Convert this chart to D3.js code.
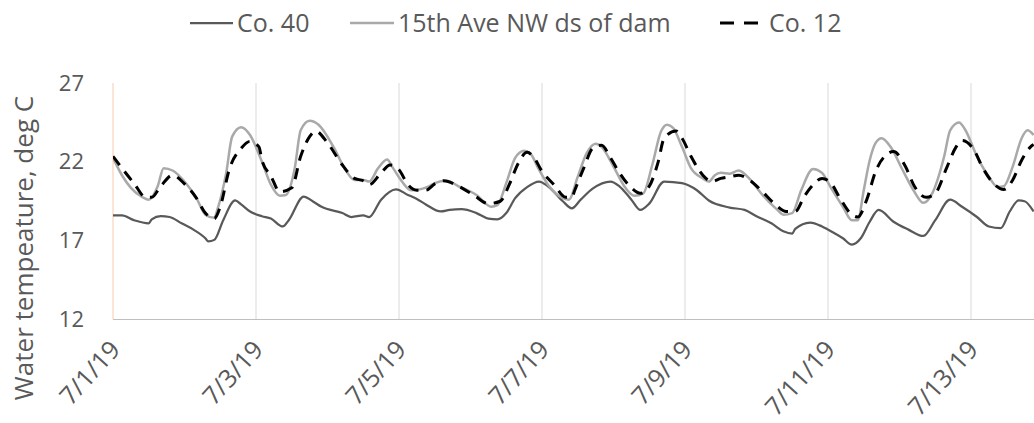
<!DOCTYPE html>
<html>
<head>
<meta charset="utf-8">
<script src="https://cdn.jsdelivr.net/npm/d3@7/dist/d3.min.js"></script>
<style>
  html, body { margin: 0; padding: 0; background: #fff; }
  svg { display: block; font-family: "Open Sans", sans-serif; }
</style>
</head>
<body>
<svg id="chart" width="1034" height="423"></svg>
<script>
// Water temperature readings, hours since 7/1/19 00:00
const co40Hours = [0,3,7,12,13,16,19,23,27,31,32,34,37,41,43,46,50,53,57,59,64,67,70,77,80,84,86,90,95,99,102,105,110,113,117,122,126,129,132,135,139,143,146,151,154,157,161,167,170,174,177,180,185,191,196,200,207,212,216,221,225,228,229,234,238,240,245,248,251,254,257,262,267,272,276,281,285,290,294,298,301,304,306,309];
const co40Temps = [18.6,18.6,18.3,18.1,18.35,18.55,18.5,18.1,17.7,17.15,16.95,17.05,18.3,19.55,19.3,18.85,18.55,18.4,17.9,18.3,19.8,19.5,19.15,18.75,18.5,18.6,18.5,19.6,20.25,19.9,19.65,19.3,18.85,18.95,19.0,18.75,18.4,18.35,18.75,19.7,20.4,20.75,20.45,19.5,19.05,19.6,20.3,20.75,20.45,19.6,18.95,19.35,20.75,20.65,20.2,19.55,19.1,18.95,18.55,18.1,17.6,17.45,17.75,18.15,17.9,17.7,17.15,16.75,17.15,18.2,18.95,18.2,17.7,17.3,18.3,19.6,19.15,18.5,17.9,17.8,18.85,19.55,19.5,18.85];

const aveHours = [0,3,6,10,12,15,17,20,24,28,31,34,35,38,40,43,46,50,53,56,58,61,63,66,69,74,78,81,84,86,89,92,94,97,100,106,108,112,116,122,127,129,132,135,138,140,143,146,151,153,156,159,162,164,168,172,175,178,181,184,186,188,191,194,198,200,202,204,207,210,214,218,223,225,228,231,235,238,241,245,248,250,252,254,256,258,261,265,269,272,275,279,281,284,286,290,294,297,299,302,305,307,309];
const aveTemps = [22.25,21.15,20.35,19.75,19.6,20.45,21.6,21.45,20.75,19.7,18.65,18.45,18.95,21.3,23.6,24.2,23.7,22.0,20.55,19.85,19.9,21.6,24.0,24.6,24.35,22.95,21.5,20.85,20.85,20.75,21.6,22.15,21.6,20.75,20.2,20.45,20.65,20.8,20.45,19.9,19.15,19.25,20.65,22.25,22.7,22.55,21.5,20.55,19.7,19.6,21.05,22.55,23.15,22.95,21.7,20.35,19.85,20.0,21.8,23.95,24.35,24.15,22.95,21.6,20.95,20.75,21.15,21.3,21.25,21.45,20.85,19.9,18.95,18.65,18.75,20.2,21.55,21.3,20.35,19.15,18.3,18.3,20.2,22.1,23.2,23.5,22.95,21.5,20.1,19.4,20.0,22.35,24.0,24.5,24.05,22.35,21.05,20.4,20.45,21.7,23.5,24.0,23.7];

const co12Hours = [0,3,7,11,13,16,20,24,28,31,34,36,39,43,46,49,50,53,56,60,63,66,68,72,77,81,84,86,90,93,96,99,102,105,108,111,116,121,126,130,133,136,139,141,144,148,152,154,155,158,161,164,167,170,174,177,180,183,185,189,191,194,198,201,204,207,210,214,218,222,226,229,232,235,238,241,244,248,250,253,256,259,262,266,269,273,276,280,283,285,289,292,296,299,302,305,308,309];
const co12Temps = [22.35,21.6,20.65,19.75,19.75,20.45,21.15,20.6,19.7,18.75,18.4,19.15,21.5,22.85,23.3,22.95,22.1,21.1,20.1,20.35,22.35,23.6,23.95,23.2,21.8,20.95,20.8,20.55,21.3,21.8,21.5,20.55,20.2,20.2,20.6,20.8,20.45,19.9,19.35,19.5,20.55,21.9,22.6,22.35,21.4,20.55,19.75,19.75,20.2,21.6,22.85,23.05,22.25,21.3,20.35,20.0,20.45,22.0,23.5,23.95,23.5,22.35,21.15,20.75,20.95,21.05,21.15,20.8,20.1,19.35,18.85,18.85,19.8,20.55,20.95,20.65,19.7,18.65,18.5,19.6,21.4,22.35,22.65,21.7,20.45,19.75,20.0,21.7,22.95,23.35,22.75,21.6,20.55,20.25,20.85,22.1,22.95,23.1];

const seriesNames = ["Co. 40", "15th Ave NW ds of dam", "Co. 12"];
const yTicks = [12, 17, 22, 27];
const xTickDays = [1, 3, 5, 7, 9, 11, 13];
const xTickLabels = ["7/1/19", "7/3/19", "7/5/19", "7/7/19", "7/9/19", "7/11/19", "7/13/19"];
const yTitle = "Water tempeature, deg C";

const start = new Date(2019, 6, 1);
const toDate = h => new Date(start.getTime() + h * 3600e3);
const zip = (hs, ts) => hs.map((h, i) => ({ t: toDate(h), v: ts[i] }));

const series = [
  { name: seriesNames[0], data: zip(co40Hours, co40Temps), color: "#595959", width: 2.25, dash: null },
  { name: seriesNames[1], data: zip(aveHours, aveTemps), color: "#a9a9a9", width: 2.5, dash: null },
  { name: seriesNames[2], data: zip(co12Hours, co12Temps), color: "#000000", width: 3, dash: "11,8" }
];

const svg = d3.select("#chart");
const plot = { left: 113, right: 1034, top: 83, bottom: 319.5 };

const x = d3.scaleTime()
  .domain([start, new Date(2019, 6, 14)])
  .range([plot.left, plot.left + 13 * 71.5]);
const y = d3.scaleLinear().domain([12, 27]).range([plot.bottom, plot.top]);

svg.append("defs").append("clipPath").attr("id", "plotclip")
  .append("rect")
  .attr("x", plot.left).attr("y", 0)
  .attr("width", plot.right - plot.left).attr("height", 423);

// vertical gridlines every two days
const tickDates = xTickDays.map(d => new Date(2019, 6, d));
svg.append("g").selectAll("line").data(tickDates.slice(1)).join("line")
  .attr("x1", d => x(d)).attr("x2", d => x(d))
  .attr("y1", plot.top).attr("y2", plot.bottom)
  .attr("stroke", "#d9d9d9").attr("stroke-width", 1);

// axis lines
svg.append("line")
  .attr("x1", plot.left).attr("x2", plot.right)
  .attr("y1", plot.bottom).attr("y2", plot.bottom)
  .attr("stroke", "#bfbfbf").attr("stroke-width", 1.2);
svg.append("line")
  .attr("x1", plot.left).attr("x2", plot.left)
  .attr("y1", plot.top).attr("y2", plot.bottom)
  .attr("stroke", "#f8cbad").attr("stroke-width", 1);

// y axis labels
const yAxis = d3.axisLeft(y).tickValues(yTicks).tickSize(0).tickPadding(0).tickFormat(d3.format("d"));
const yg = svg.append("g").attr("transform", `translate(${plot.left - 29},0)`).call(yAxis);
yg.select(".domain").remove();
yg.selectAll("text").attr("fill", "#595959").style("font-size", "22px")
  .style("font-family", "'Open Sans', sans-serif");

// x axis labels, rotated
const xAxis = d3.axisBottom(x).tickValues(tickDates).tickSize(0)
  .tickFormat((d, i) => xTickLabels[i]);
const xg = svg.append("g").attr("transform", `translate(0,${plot.bottom})`).call(xAxis);
xg.select(".domain").remove();
xg.selectAll("text")
  .attr("fill", "#595959").style("font-size", "25px")
  .style("font-family", "'Open Sans', sans-serif")
  .attr("text-anchor", "end")
  .attr("dy", null).attr("y", null)
  .attr("transform", "translate(8,31) rotate(-48)");

// y title
svg.append("text")
  .attr("transform", `translate(33,${248}) rotate(-90)`)
  .attr("text-anchor", "middle")
  .attr("fill", "#595959").style("font-size", "26px")
  .text(yTitle);

// series lines
const line = d3.line().x(d => x(d.t)).y(d => y(d.v)).curve(d3.curveMonotoneX);
const lines = svg.append("g").attr("clip-path", "url(#plotclip)");
series.forEach(s => {
  lines.append("path").datum(s.data)
    .attr("d", line)
    .attr("fill", "none")
    .attr("stroke", s.color)
    .attr("stroke-width", s.width)
    .attr("stroke-linejoin", "round")
    .attr("stroke-dasharray", s.dash);
});

// legend
const legendItems = [
  { s: series[0], x0: 190, x1: 233, tx: 237, dash: null },
  { s: series[1], x0: 350, x1: 394, tx: 398, dash: null },
  { s: series[2], x0: 720, x1: 758, tx: 769, dash: "14,10" }
];
const lg = svg.append("g");
legendItems.forEach(it => {
  lg.append("line")
    .attr("x1", it.x0).attr("x2", it.x1).attr("y1", 23).attr("y2", 23)
    .attr("stroke", it.s.color).attr("stroke-width", it.s.width)
    .attr("stroke-dasharray", it.dash);
  lg.append("text")
    .attr("x", it.tx).attr("y", 23).attr("dy", "0.35em")
    .attr("fill", "#595959").style("font-size", "25px")
    .text(it.s.name);
});
</script>
</body>
</html>
